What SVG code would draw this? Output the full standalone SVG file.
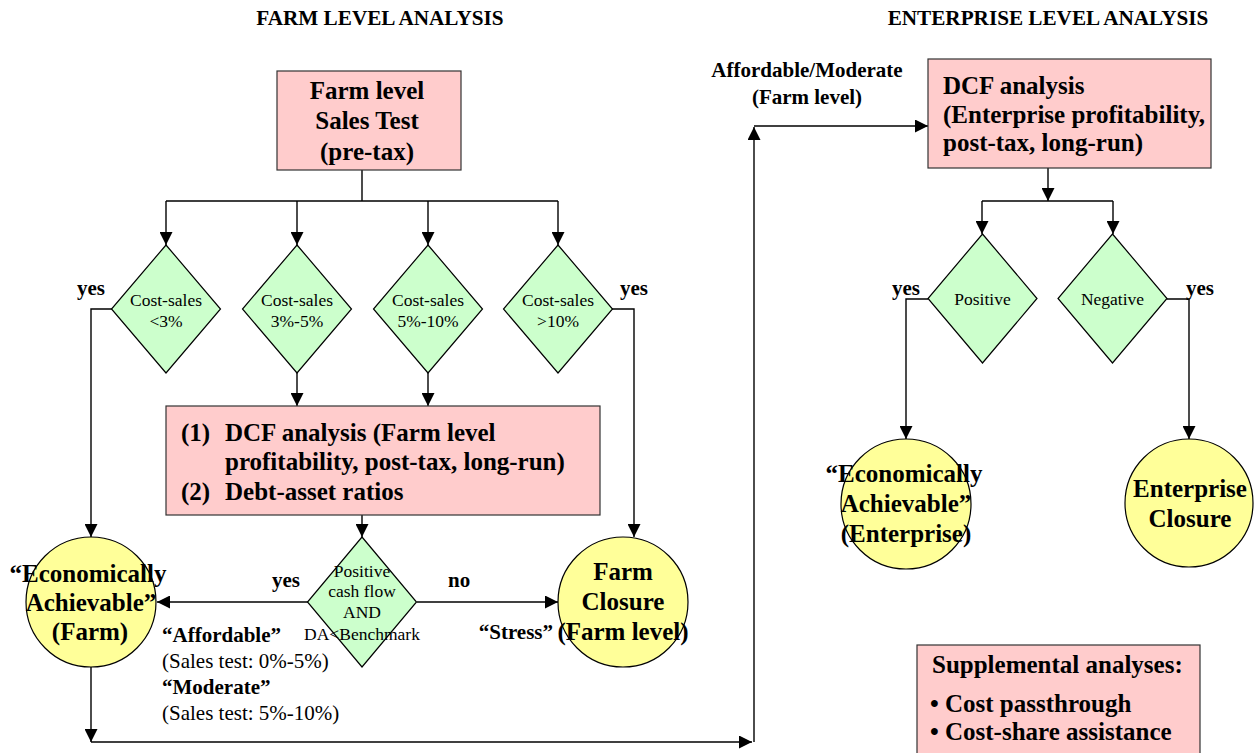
<svg xmlns="http://www.w3.org/2000/svg" width="1254" height="753" viewBox="0 0 1254 753">
<defs>
<marker id="arr" markerUnits="userSpaceOnUse" markerWidth="13" markerHeight="13" refX="13" refY="6.5" orient="auto">
<path d="M0,0 L13,6.5 L0,13 z" fill="#000"/>
</marker>
<style>
.box{fill:#FFCCCC;stroke:#333;stroke-width:1.2}
.dia{fill:#CCFFCC;stroke:#000;stroke-width:1.2}
.cir{fill:#FFFF99;stroke:#000;stroke-width:1.2}
.c{fill:none;stroke:#000;stroke-width:1.4}
.a{marker-end:url(#arr)}
.big{font-family:"Liberation Serif",serif;font-weight:bold;font-size:25px;fill:#000}
.lab{font-family:"Liberation Serif",serif;font-weight:bold;font-size:21px;fill:#000}
.reg{font-family:"Liberation Serif",serif;font-size:21px;fill:#000}
.dt{font-family:"Liberation Serif",serif;font-size:17.5px;fill:#000;text-anchor:middle}
.m{text-anchor:middle}
</style>
</defs>
<rect width="1254" height="753" fill="#fff"/>

<text class="lab m" x="380" y="25" style="font-size:21.2px">FARM LEVEL ANALYSIS</text>
<text class="lab m" x="1048" y="25" style="font-size:21.2px">ENTERPRISE LEVEL ANALYSIS</text>

<g id="connectors">
<path class="c" d="M362,170 V201 M166,201 H558"/>
<path class="c a" d="M166,201 V245"/>
<path class="c a" d="M297,201 V245"/>
<path class="c a" d="M428,201 V245"/>
<path class="c a" d="M558,201 V245"/>
<path class="c a" d="M112,309 H91 V537"/>
<path class="c a" d="M612,309 H634 V537"/>
<path class="c a" d="M297,373 V406"/>
<path class="c a" d="M428,373 V406"/>
<path class="c a" d="M362,515 V537"/>
<path class="c a" d="M308,602 H157"/>
<path class="c a" d="M417,602 H558"/>
<path class="c a" d="M91,667 V742"/>
<path class="c a" d="M91,742 H752"/>
<path class="c a" d="M754,742 V127"/>
<path class="c a" d="M754,126 H928"/>
<path class="c a" d="M1048,168 V201"/>
<path class="c" d="M982,201 H1113"/>
<path class="c a" d="M982,201 V234"/>
<path class="c a" d="M1113,201 V234"/>
<path class="c a" d="M928,299 H906 V439"/>
<path class="c a" d="M1167,299 H1189 V439"/>
</g>

<g id="sales-test">
<rect class="box" x="277" y="71" width="184" height="99"/>
<text class="big m" x="367" y="99">Farm level</text>
<text class="big m" x="367" y="129">Sales Test</text>
<text class="big m" x="367" y="160">(pre-tax)</text>
</g>

<g id="d-lt3">
<path class="dia" d="M166,245 L220.5,309 L166,373 L111.5,309 z"/>
<text class="dt" x="166" y="306">Cost-sales</text>
<text class="dt" x="166" y="327">&lt;3%</text>
</g>
<g id="d-3to5">
<path class="dia" d="M297,245 L351.5,309 L297,373 L242.5,309 z"/>
<text class="dt" x="297" y="306">Cost-sales</text>
<text class="dt" x="297" y="327">3%-5%</text>
</g>
<g id="d-5to10">
<path class="dia" d="M428,245 L482.5,309 L428,373 L373.5,309 z"/>
<text class="dt" x="428" y="306">Cost-sales</text>
<text class="dt" x="428" y="327">5%-10%</text>
</g>
<g id="d-gt10">
<path class="dia" d="M558,245 L612.5,309 L558,373 L503.5,309 z"/>
<text class="dt" x="558" y="306">Cost-sales</text>
<text class="dt" x="558" y="327">&gt;10%</text>
</g>
<text class="lab" x="77" y="295">yes</text>
<text class="lab" x="620" y="295">yes</text>

<g id="farm-dcf">
<rect class="box" x="166" y="406" width="434" height="109"/>
<text class="big" x="181" y="441">(1)</text>
<text class="big" x="225" y="441">DCF analysis (Farm level</text>
<text class="big" x="225" y="470">profitability, post-tax, long-run)</text>
<text class="big" x="181" y="500">(2)</text>
<text class="big" x="225" y="500">Debt-asset ratios</text>
</g>

<g id="d-cash">
<path class="dia" d="M362,537 L416.5,602 L362,667 L307.5,602 z"/>
<text class="dt" x="362" y="577">Positive</text>
<text class="dt" x="362" y="597">cash flow</text>
<text class="dt" x="362" y="618">AND</text>
<text class="dt" x="362" y="640">DA&lt;Benchmark</text>
</g>
<text class="lab" x="272" y="587">yes</text>
<text class="lab" x="448" y="587">no</text>

<g id="farm-achievable">
<circle class="cir" cx="91" cy="602" r="65"/>
<text class="big m" x="88" y="582">“Economically</text>
<text class="big m" x="91" y="611">Achievable”</text>
<text class="big m" x="90" y="640">(Farm)</text>
</g>
<text class="lab" x="162" y="642">“Affordable”</text>
<text class="reg" x="162" y="668">(Sales test: 0%-5%)</text>
<text class="lab" x="162" y="694">“Moderate”</text>
<text class="reg" x="162" y="720">(Sales test: 5%-10%)</text>

<g id="farm-closure">
<circle class="cir" cx="623" cy="602" r="65"/>
<text class="big m" x="623" y="580">Farm</text>
<text class="big m" x="623" y="610">Closure</text>
<text class="big m" x="623" y="640">(Farm level)</text>
</g>
<text class="lab" x="553" y="639" text-anchor="end">“Stress”</text>

<text class="lab m" x="807" y="77">Affordable/Moderate</text>
<text class="lab m" x="807" y="104">(Farm level)</text>

<g id="ent-dcf">
<rect class="box" x="928" y="59" width="283" height="109"/>
<text class="big" x="943" y="94">DCF analysis</text>
<text class="big" x="943" y="123">(Enterprise profitability,</text>
<text class="big" x="943" y="151">post-tax, long-run)</text>
</g>

<g id="d-positive">
<path class="dia" d="M982.5,234 L1037,298.5 L982.5,363 L928,298.5 z"/>
<text class="dt" x="982.5" y="305">Positive</text>
</g>
<g id="d-negative">
<path class="dia" d="M1112.5,234 L1167,298.5 L1112.5,363 L1058,298.5 z"/>
<text class="dt" x="1112.5" y="305">Negative</text>
</g>
<text class="lab" x="892" y="295">yes</text>
<text class="lab" x="1186" y="295">yes</text>

<g id="ent-achievable">
<circle class="cir" cx="906" cy="504" r="65"/>
<text class="big m" x="904" y="482">“Economically</text>
<text class="big m" x="906" y="512">Achievable”</text>
<text class="big m" x="906" y="542">(Enterprise)</text>
</g>

<g id="ent-closure">
<circle class="cir" cx="1189" cy="503" r="64"/>
<text class="big m" x="1190" y="497">Enterprise</text>
<text class="big m" x="1190" y="527">Closure</text>
</g>

<g id="supplemental">
<rect class="box" x="917" y="645" width="283" height="130"/>
<text class="big" x="932" y="673">Supplemental analyses:</text>
<text class="big" x="930" y="712">• Cost passthrough</text>
<text class="big" x="930" y="740">• Cost-share assistance</text>
</g>
</svg>
